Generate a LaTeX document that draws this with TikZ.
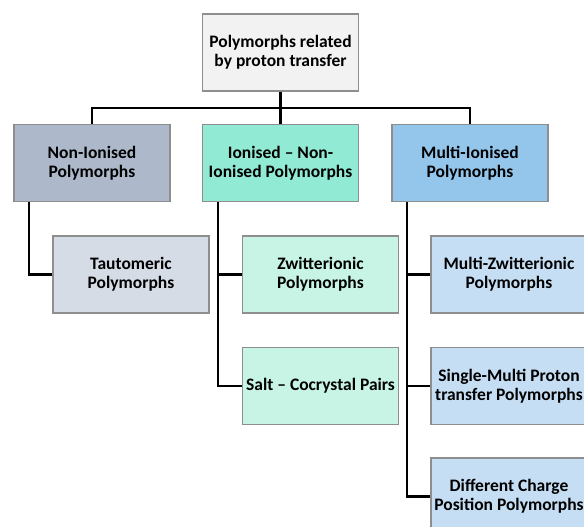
\documentclass[tikz,border=0pt]{standalone}
\usepackage{fontspec}
\setmainfont{Carlito}
\usetikzlibrary{positioning}

\definecolor{boxline}{HTML}{8E8E8E}
\definecolor{rootfill}{HTML}{F2F2F2}
\definecolor{nonfill}{HTML}{ADB9CA}
\definecolor{ionfill}{HTML}{91EAD3}
\definecolor{multifill}{HTML}{94C6EC}
\definecolor{nonsub}{HTML}{D6DCE5}
\definecolor{ionsub}{HTML}{C7F4E5}
\definecolor{multisub}{HTML}{C6DEF3}

\begin{document}
\begin{tikzpicture}[x=1pt, y=1pt,
    box/.style={draw=boxline, line width=1.5pt, minimum width=156pt, minimum height=77pt,
      inner sep=2pt, align=center, font=\fontsize{17.5}{19}\selectfont\bfseries},
    link/.style={line width=2.2pt}]
  \clip (0,0) rectangle (584,-527);
  \fill[white] (0,0) rectangle (584,-527);

  \node[box, fill=rootfill] (root) at (280.5,-52.5) {Polymorphs related\\by proton transfer};
  \node[box, fill=ionfill, below=32pt of root] (ion) {Ionised -- Non-\\Ionised Polymorphs};
  \node[box, fill=nonfill, left=31pt of ion] (non) {Non-Ionised\\Polymorphs};
  \node[box, fill=multifill, right=32pt of ion] (multi) {Multi-Ionised\\Polymorphs};

  \node[box, fill=nonsub, below right=33pt and 39pt of non.south west] (taut) {Tautomeric\\Polymorphs};
  \node[box, fill=ionsub, below right=33pt and 40pt of ion.south west] (zwit) {Zwitterionic\\Polymorphs};
  \node[box, fill=ionsub, below=33pt of zwit] (salt) {Salt -- Cocrystal Pairs};
  \node[box, fill=multisub, below right=33pt and 39pt of multi.south west] (mzwit) {Multi-Zwitterionic\\Polymorphs};
  \node[box, fill=multisub, below=33pt of mzwit] (single) {Single-Multi Proton\\transfer Polymorphs};
  \node[box, fill=multisub, below=32pt of single] (charge) {Different Charge\\Position Polymorphs};

  % top level
  \draw[link] (root) -- (ion);
  \draw[link] (non.north) -- ++(0,16) -| (multi.north);

  % sub levels
  \coordinate (nonstem) at ([xshift=16pt]non.south west);
  \coordinate (ionstem) at ([xshift=16pt]ion.south west);
  \coordinate (multistem) at ([xshift=16pt]multi.south west);
  \draw[link] (nonstem) |- (taut.west);
  \draw[link] (ionstem) |- (salt.west);
  \draw[link] (ionstem |- zwit.west) -- (zwit.west);
  \draw[link] (multistem) |- (charge.west);
  \draw[link] (multistem |- mzwit.west) -- (mzwit.west);
  \draw[link] (multistem |- single.west) -- (single.west);
\end{tikzpicture}
\end{document}
